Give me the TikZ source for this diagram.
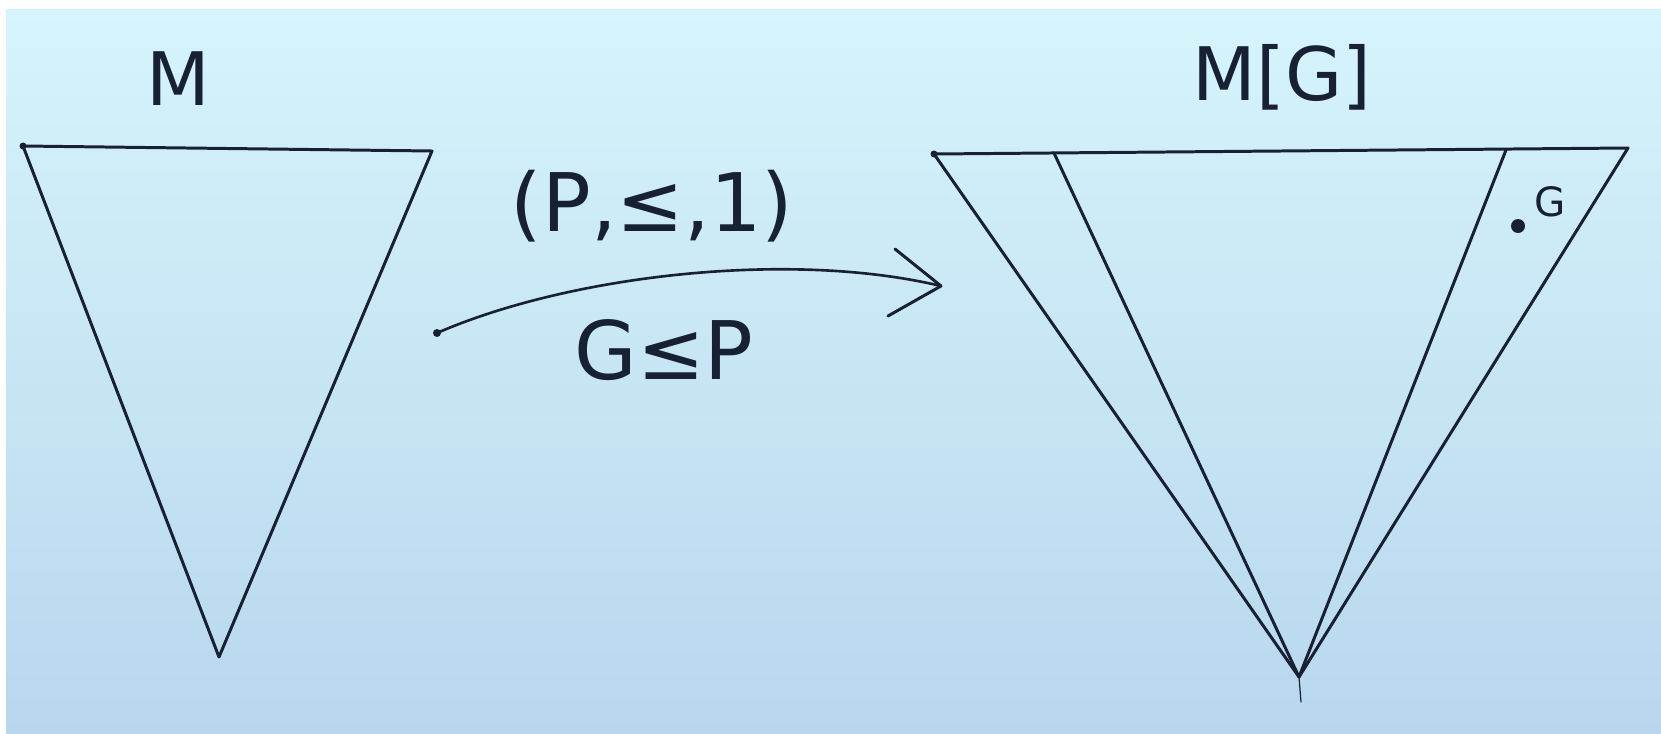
\documentclass[tikz,border=0pt]{standalone}
\usepackage{fontspec}
\setmainfont{DejaVu Sans}
\definecolor{ink}{RGB}{24,32,52}
\definecolor{bgtop}{RGB}{214,244,251}
\definecolor{bgbot}{RGB}{184,215,238}
\tikzset{
  pen/.style={draw=ink, line width=1.7pt, line cap=round, line join=round},
  thinpen/.style={draw=ink, line width=1.5pt, line cap=round},
  biglbl/.style={text=ink, inner sep=0pt, font=\fontsize{42}{50}\selectfont},
  arrlbl/.style={text=ink, inner sep=0pt, font=\fontsize{46}{54}\selectfont},
  smalllbl/.style={text=ink, inner sep=0pt, font=\fontsize{23}{27}\selectfont},
  dotmark/.style={fill=ink, draw=none}
}
\begin{document}
\begin{tikzpicture}[x=0.02cm, y=-0.02cm]
\useasboundingbox (0,0) rectangle (1661,734);
\fill[white] (0,0) rectangle (1661,734);
\shade[top color=bgtop, bottom color=bgbot] (6,9) rectangle (1661,734);

% left model M
\coordinate (a1) at (23,146);
\coordinate (a2) at (432,151);
\coordinate (a3) at (219,657);
\draw[pen] (a1) -- (a2) -- (a3) -- cycle;
\fill[dotmark] (a1) circle (3.5);
\node[biglbl] (m) at (178,79) {M};

% arrow
\coordinate (s) at (437,333);
\coordinate (e) at (941,286);
\coordinate (bu) at (895,249);
\coordinate (bl) at (888,316);
\draw[thinpen] (s) .. controls (570,275) and (790,250) .. (e);
\draw[pen] (bu) -- (e) -- (bl);
\fill[dotmark] (s) circle (4);
\node[arrlbl] (pq) at (652,206) {(P,≤,1)};
\node[arrlbl] (gp) at (664,350) {G≤P};

% right model M[G]
\coordinate (b1) at (934,154);
\coordinate (b2) at (1628,148);
\coordinate (b3) at (1299,677);
\coordinate (b4) at (1054,153);
\coordinate (b5) at (1506,150);
\coordinate (b6) at (1301,702);
\draw[pen] (b1) -- (b2) -- (b3) -- cycle;
\draw[pen] (b4) -- (b3) -- (b5);
\draw[thinpen, line width=0.7pt] (b3) -- (b6);
\fill[dotmark] (b1) circle (3.5);
\node[biglbl] (mg) at (1282,77) {M[G]};
\fill[dotmark] (1518,226) circle (7);
\node[smalllbl] (g) at (1550,202) {G};
\end{tikzpicture}
\end{document}
